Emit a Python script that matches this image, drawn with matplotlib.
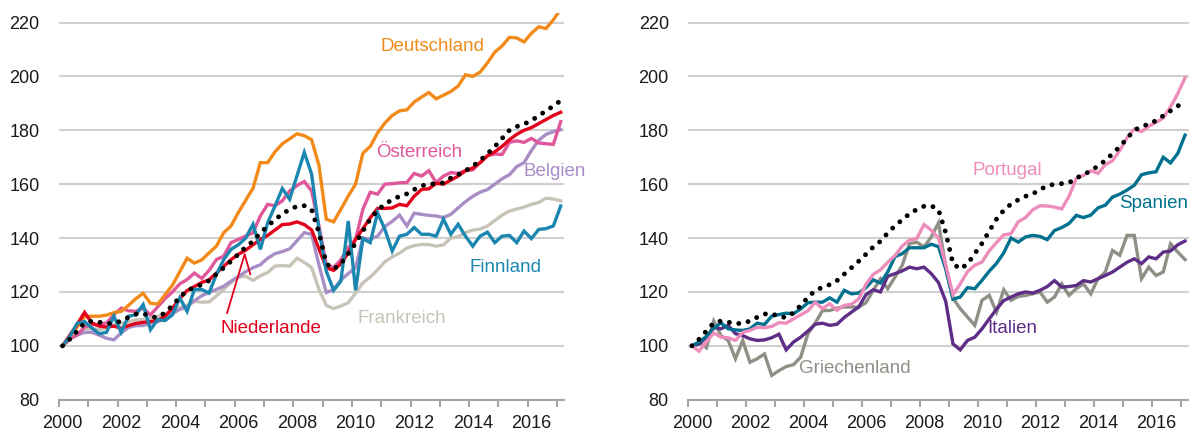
import numpy as np
import matplotlib
matplotlib.use("Agg")
import matplotlib.pyplot as plt

plt.rcParams['font.family'] = ['Liberation Sans', 'DejaVu Sans']

# Quartalswerte 2000Q1 - 2017Q1, Index 2000Q1 = 100
n_quartale = 69
jahre_ticks = list(range(2000, 2018))
jahre_labels = list(range(2000, 2017, 2))

euroraum = [100, 102.5, 105.5, 108.5, 109.2, 108.8, 108.2, 108.4, 109.2, 110.6,
            111.8, 112, 110.8, 110.5, 112.3, 115, 118, 120.5, 121.7, 122.7,
            124.2, 126.6, 129, 131.4, 134, 136.7, 138.8, 141.9, 144.5, 146.8,
            149, 150.6, 151.8, 152, 150.5, 142, 130.5, 128.5, 130.4, 134.2,
            138, 142.6, 147, 150.3, 152.6, 154.2, 155.5, 156.4, 158, 159.4,
            160, 160.2, 160.5, 162.3, 163.5, 165, 166.7, 168.8, 171.3, 173.9,
            177, 180, 181.4, 182.3, 183.6, 185.4, 187.2, 189, 191]

deutschland = [100, 103.5, 107, 110.8, 111, 111, 111.4, 112.3, 112.8, 115,
               117.5, 119.5, 115.8, 115.5, 119, 122.5, 127.5, 132.5, 130.7, 131.9,
               134.5, 137, 142, 144.5, 149.5, 154, 158.5, 168, 168, 172,
               175, 176.8, 178.7, 178, 176.5, 167, 147, 146, 150.7, 155.6,
               160, 171.5, 174, 179, 182.7, 185.5, 187.2, 187.6, 190.5, 192.3,
               194, 191.7, 193, 194.4, 196.4, 200.6, 200, 201.6, 205, 209,
               211.3, 214.5, 214.3, 212.8, 216, 218.4, 217.8, 221, 225]

oesterreich = [100, 102.5, 104, 107, 107.8, 108, 108.5, 111.5, 114, 113,
               112.8, 114, 111.5, 114.5, 117.5, 120, 123, 124.6, 127, 125,
               128, 132, 133.3, 138.3, 139.5, 140.7, 142, 148.2, 152.5, 152,
               153.8, 157.5, 159.5, 161, 157.5, 144.5, 130.2, 129, 132, 136.4,
               139.5, 150.7, 157, 156.3, 160, 160.2, 160.5, 160.6, 164, 163,
               165, 160.6, 163, 164.3, 164, 165, 165.3, 168, 170.6, 171.2,
               171, 175.5, 176.1, 175.5, 177, 175.3, 175, 174.8, 183.2]

belgien = [100, 102.8, 104, 105, 105, 104, 102.8, 102.2, 104.8, 106.8,
           107.5, 107.5, 108.5, 109, 110, 112, 113.5, 114.5, 116.8, 118.6,
           119.8, 120.9, 122.1, 124, 125.7, 127.5, 129, 130.1, 132.5, 134.2,
           135, 136, 139, 142, 141.4, 130, 119.8, 120.9, 124.5, 126.8,
           129, 140, 139.6, 140.7, 144.3, 146.2, 148.5, 144.5, 149.2, 148.8,
           148.4, 148.2, 147.6, 148.8, 151.2, 153.5, 155.5, 157, 158, 160,
           162, 163.5, 166.5, 168, 172.5, 176.3, 178.5, 179.5, 180.2]

frankreich = [100, 102.5, 104.5, 106.3, 106.4, 106, 106.6, 107.8, 108.3, 109,
              109.6, 109.8, 110.3, 111, 111.8, 113, 114.2, 115, 116.5, 116.2,
              116.3, 118.5, 121, 123.5, 125.5, 125.8, 124.3, 126, 127.2, 129.6,
              129.8, 129.6, 132.5, 131, 129, 121, 115, 113.8, 114.8, 116,
              119.6, 123.4, 125.5, 128.2, 131.2, 133, 134.4, 136.3, 137.2, 137.6,
              137.6, 137, 137.5, 140, 140.5, 142, 143, 143.3, 144.5, 146.5,
              148.5, 150, 150.8, 151.5, 152.5, 153.2, 154.8, 154.5, 153.8]

finnland = [100, 103.5, 108.4, 109, 106.6, 104.5, 105, 111, 105, 111,
            111.5, 115.3, 106, 109.7, 109.4, 111.5, 117.8, 112.8, 120.9, 120.9,
            119.6, 126.5, 132, 135.8, 137.5, 140, 145.1, 135.8, 145.7, 151.9,
            158.4, 154.4, 163.1, 171.8, 163.7, 143.2, 127.7, 120.6, 124, 146.3,
            120.6, 139.8, 138.3, 149.4, 143.2, 135.2, 140.7, 141.4, 143.9, 141.4,
            141.4, 140.7, 147, 141.4, 145.1, 140.7, 137, 140.7, 142.2, 138.3,
            140.7, 141, 138.3, 142.6, 139.8, 143.2, 143.5, 144.5, 151.9]

niederlande = [100, 104, 108, 112.4, 108.5, 107.3, 107, 107.3, 106.5, 107.5,
               108.3, 108.7, 109, 109.5, 111, 114, 117.5, 120.5, 122, 123.5,
               124.5, 127, 129.5, 132, 134, 135.5, 137.5, 139.5, 141, 143,
               145, 145.2, 146, 145, 143, 136, 129, 128, 130.5, 134.5,
               139.5, 143.5, 147.5, 151, 151, 151.2, 152.5, 152, 155.5, 158,
               158.3, 160.3, 160, 161.5, 163, 165, 166, 168, 170.5, 172,
               174, 176.5, 178.5, 180, 181, 182.5, 184, 185.5, 186.7]

portugal = [100, 98, 101.5, 104.8, 103.2, 103, 102, 105, 105.7, 106.9,
            106.7, 107.2, 108.6, 108.4, 110, 111.5, 113, 116.2, 113.8, 115.6,
            113.2, 115, 115.4, 117.4, 122.8, 126.5, 128.2, 131, 133.5, 137,
            139.3, 139.8, 145, 142.9, 140, 130, 119, 123, 127.5, 129.9,
            131.1, 135.3, 138.3, 141.2, 141.6, 146, 147.6, 150.5, 152, 151.9,
            151.5, 150.8, 155.5, 162.1, 163.3, 165, 164, 167.2, 168.7, 172.5,
            177.2, 180.5, 179.5, 181.5, 182.9, 184.6, 188.7, 193.6, 199.5]

spanien = [100, 101.4, 103.5, 106.5, 108.5, 106.3, 105.9, 105.7, 106.3, 108.4,
           107.9, 111, 111.6, 112.1, 111.9, 113.7, 116, 116.2, 116.2, 117.8,
           116.2, 120.6, 119.3, 119.6, 121.6, 124.5, 123.3, 127.4, 133.1, 134.2,
           136.4, 136.4, 136.4, 137.7, 136.8, 128.5, 117.3, 118.1, 121.6, 121.2,
           124.3, 127.7, 130.6, 134.5, 140, 138.5, 140.4, 141, 140.6, 139.4,
           142.8, 143.9, 145.4, 148.4, 147.6, 148.5, 151.2, 152.2, 155.2, 156.3,
           157.8, 159.6, 163.5, 164.2, 164.6, 170, 167.9, 171.4, 178.2]

italien = [100, 100.7, 103.2, 106.9, 106.3, 107.6, 104.5, 103.8, 102.6, 102,
           102.2, 103, 104.3, 98.5, 101.4, 103.2, 105.5, 108, 108.4, 107.6,
           108, 110.5, 112.5, 114.4, 119, 120.8, 120, 125.8, 126.8, 127.8,
           129.2, 128.6, 129.2, 126.8, 123.5, 116.5, 100.7, 98.5, 102, 103.2,
           106.3, 110, 113.6, 116.8, 118.1, 119.3, 120, 119.6, 120.6, 122,
           124.2, 121.8, 122, 122.4, 124.2, 123.7, 124.9, 126.1, 127.4, 129.2,
           131, 132.3, 130.5, 133, 132.3, 134.8, 135.2, 137.5, 138.9]

griechenland = [100, 101.4, 99.3, 109.2, 103.8, 102, 95.2, 102, 93.9, 95.2,
                97, 89, 90.8, 92.3, 93, 95.8, 104.5, 108.4, 113.1, 113.1,
                114, 114.4, 114.4, 114.4, 116, 120.6, 124.9, 121.2, 125.5, 129.9,
                137.9, 138.5, 136.7, 140.4, 145.6, 129.2, 117.7, 113.8, 110.7, 107.6,
                116.9, 118.7, 112.5, 120.8, 116.9, 118.3, 118.7, 119.3, 120, 116.2,
                118.1, 123, 118.7, 121.2, 123, 119.3, 124.9, 127.4, 135.4, 133.6,
                141, 141, 124.9, 129.2, 126.1, 127.4, 137.9, 134.8, 132]

# Zeitachse: Mitte jedes Quartals
x = 2000 + (np.arange(n_quartale) + 0.5) / 4

# (Werte, Farbe, Name, Label-x, Label-y, Ausrichtung)
links = [
    (frankreich, '#C7C4B7', 'Frankreich', 2011.72, 110.0, 'center'),
    (belgien, '#A88DC6', 'Belgien', 2018.0, 164.8, 'right'),
    (oesterreich, '#E0579A', 'Österreich', 2012.31, 171.7, 'center'),
    (deutschland, '#F28A1A', 'Deutschland', 2012.75, 211.2, 'center'),
    (niederlande, '#E3001B', 'Niederlande', 2007.22, 106.6, 'center'),
    (finnland, '#1B87B1', 'Finnland', 2015.23, 129.2, 'center'),
]
rechts = [
    (griechenland, '#8F8F86', 'Griechenland', 2005.75, 91.4, 'center'),
    (italien, '#5E2D86', 'Italien', 2011.16, 106.3, 'center'),
    (spanien, '#00718F', 'Spanien', 2017.22, 152.8, 'right'),
    (portugal, '#EE8DBB', 'Portugal', 2010.99, 165.2, 'center'),
]

fig = plt.figure(figsize=(11.89, 4.37), dpi=100)
ax1 = fig.add_axes([0.04954, 0.08535, 0.4251, 0.8847])
ax2 = fig.add_axes([0.5789, 0.08535, 0.4208, 0.8847])


def achse_stylen(ax):
    ax.set_xlim(2000, 2017.25)
    ax.set_ylim(80, 223.5)
    ax.set_yticks(range(80, 221, 20))
    ax.yaxis.grid(True, color='#D0D0D0', linewidth=1.5)
    ax.set_axisbelow(True)
    for s in ['left', 'right', 'top']:
        ax.spines[s].set_visible(False)
    ax.spines['bottom'].set_color('#A6A6A6')
    ax.spines['bottom'].set_linewidth(1.5)
    ax.spines['bottom'].set_zorder(3)
    # Striche an den Jahresgrenzen, Beschriftung mittig im ersten Quartal
    ax.set_xticks(jahre_ticks)
    ax.set_xticklabels([])
    ax.tick_params(axis='x', which='major', length=5, width=1.5, color='#A6A6A6')
    ax.set_xticks([j + 0.125 for j in jahre_labels], minor=True)
    ax.set_xticklabels([str(j) for j in jahre_labels], minor=True)
    ax.tick_params(axis='x', which='minor', length=0, pad=11, labelsize=13,
                   labelcolor='#1A1A1A')
    ax.tick_params(axis='y', length=0, pad=14, labelsize=13, labelcolor='#1A1A1A')


for ax, serien in [(ax1, links), (ax2, rechts)]:
    achse_stylen(ax)
    for werte, farbe, name, tx, ty, ha in serien:
        ax.plot(x, werte, color=farbe, linewidth=2.4, solid_joinstyle='miter', zorder=2)
        ax.text(tx, ty, name, color=farbe, fontsize=13.5, ha=ha, va='center',
                clip_on=False, zorder=5)
    # Euroraum gepunktet
    ax.plot(x, euroraum, color='black', linewidth=3.5, linestyle=(0, (0.01, 1.95)),
            dash_capstyle='round', zorder=4)

# Hinweislinie zu Niederlande
ax1.plot([2005.74, 2006.34, 2006.53], [112.2, 134, 126.6], color='#E3001B',
         linewidth=1.3, zorder=5)

fig.savefig('out.png', dpi=100)
